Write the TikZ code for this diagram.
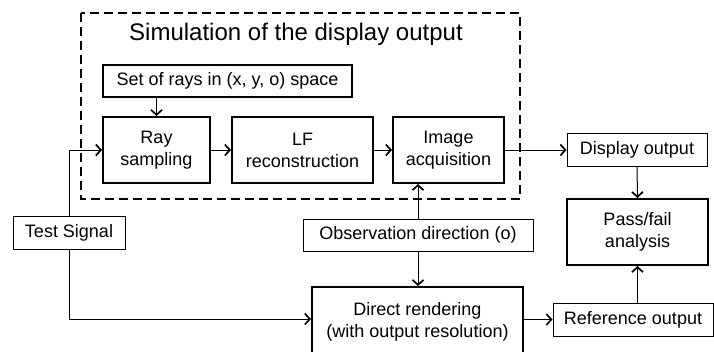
\documentclass[tikz,border=0pt]{standalone}
\usepackage{fontspec}
\setmainfont{Liberation Sans}
\usetikzlibrary{arrows.meta}
\tikzset{
  thickbox/.style={draw, line width=2pt, align=center, inner sep=0pt, font=\fontsize{18}{22}\selectfont},
  thinbox/.style={draw, line width=1pt, align=center, inner sep=0pt, font=\fontsize{18}{22}\selectfont},
  conn/.style={line width=1pt, -{Straight Barb[length=5pt,width=11pt,line width=1.7pt]}},
  wire/.style={line width=1pt},
}
\begin{document}
\begin{tikzpicture}[x=1pt,y=-1pt]
\useasboundingbox (0,0) rectangle (714,351);
% simulation frame
\draw[line width=2.2pt, dash pattern=on 9pt off 5pt] (81,13) rectangle (520,199);
\node[font=\fontsize{24}{28}\selectfont] (title) at (296,34) {Simulation of the display output};
% boxes
\node[thickbox, minimum width=249pt, minimum height=32pt] (rays) at (227.5,81) {Set of rays in (x, y, o) space};
\node[thickbox, minimum width=107pt, minimum height=66pt] (ray) at (156.5,150) {Ray\\sampling};
\node[thickbox, minimum width=141pt, minimum height=66pt] (lf) at (302.5,150) {LF\\reconstruction};
\node[thickbox, minimum width=111pt, minimum height=66pt] (img) at (448.5,150) {Image\\acquisition};
\node[thinbox, minimum width=140pt, minimum height=33pt] (disp) at (637,149.5) {Display output};
\node[thickbox, minimum width=141pt, minimum height=66pt] (pass) at (637.5,232) {Pass/fail\\analysis};
\node[thinbox, minimum width=112pt, minimum height=33pt] (test) at (69,232.5) {Test Signal};
\node[thinbox, minimum width=230pt, minimum height=32pt] (obs) at (418,235) {Observation direction (o)};
\node[thickbox, minimum width=211pt, minimum height=70pt] (direct) at (417.5,322) {};
\node[font=\fontsize{18}{22}\selectfont, align=center, inner sep=0pt] (directtxt) at (417.5,322) {Direct rendering\\(with output resolution)};
\node[thinbox, minimum width=160pt, minimum height=33pt] (ref) at (633,319.5) {Reference output};
% connectors
\coordinate (tin) at (69,150);
\coordinate (tdown) at (69,319);
\draw[conn] (rays.south -| ray) -- (ray.north);
\draw[wire] (test.north) -- (tin);
\draw[conn] (tin) -- (ray.west);
\draw[conn] (ray.east) -- (lf.west);
\draw[conn] (lf.east) -- (img.west);
\draw[conn] (img.east) -- (disp.west |- img.east);
\draw[conn] (disp.south) -- (pass.north);
\draw[conn] (obs.north) -- (img.south -| obs.north);
\draw[conn] (obs.south) -- (direct.north -| obs.south);
\draw[wire] (test.south) -- (tdown);
\draw[conn] (tdown) -- (direct.west |- tdown);
\draw[conn] (direct.east |- ref.west) -- (ref.west);
\draw[conn] (ref.north -| pass) -- (pass.south);
\end{tikzpicture}
\end{document}
